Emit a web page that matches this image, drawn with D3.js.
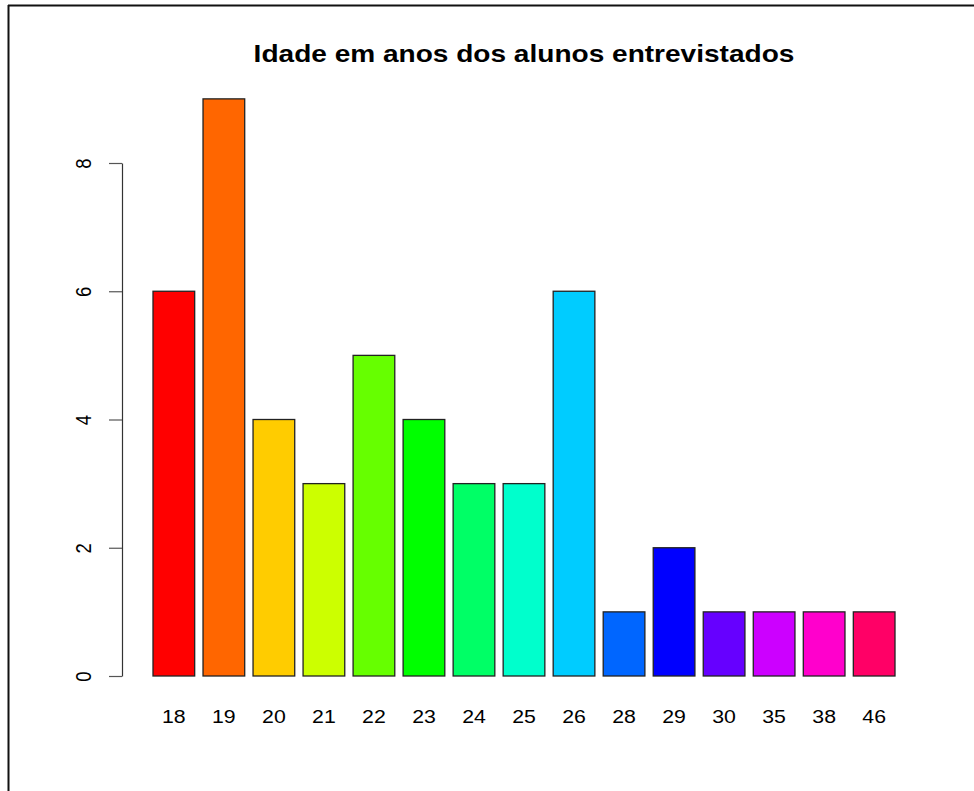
<!DOCTYPE html>
<html>
<head>
<meta charset="utf-8">
<script src="https://cdn.jsdelivr.net/npm/d3@7"></script>
<style>
  html, body { margin: 0; padding: 0; background: #fff; }
  svg { display: block; }
  text { font-family: "Liberation Sans", Arial, sans-serif; fill: #000; }
</style>
</head>
<body>
<svg id="chart" width="974" height="791"></svg>
<script>
// Ages of the interviewed students and how many students had each age
const ages = ["18", "19", "20", "21", "22", "23", "24", "25", "26", "28", "29", "30", "35", "38", "46"];
const counts = [6, 9, 4, 3, 5, 4, 3, 3, 6, 1, 2, 1, 1, 1, 1];
const yTicks = [0, 2, 4, 6, 8];
const title = "Idade em anos dos alunos entrevistados";

const svg = d3.select("#chart");
const stretch = 1.15; // text is drawn slightly wider than tall

// Frame lines along the top and left edges
svg.append("line").attr("x1", 8).attr("y1", 5.5).attr("x2", 974).attr("y2", 5.5)
  .attr("stroke", "#111").attr("stroke-width", 2);
svg.append("line").attr("x1", 8.5).attr("y1", 5).attr("x2", 8.5).attr("y2", 791)
  .attr("stroke", "#111").attr("stroke-width", 2);

// Bars follow barplot spacing: width 1, gap 0.2 in user units
const barW = 1, gap = 0.2;
const lefts = ages.map((_, i) => gap + i * (barW + gap));
const x = d3.scaleLinear().domain([gap, lefts[lefts.length - 1] + barW]).range([153, 895]);
const y = d3.scaleLinear().domain([0, 8]).range([676, 163]);

const colors = ages.map((_, i) => d3.hsl(360 * i / ages.length, 1, 0.5).formatHex());

svg.append("g").selectAll("rect")
  .data(counts)
  .join("rect")
  .attr("x", (d, i) => x(lefts[i]))
  .attr("width", (d, i) => x(lefts[i] + barW) - x(lefts[i]))
  .attr("y", d => y(d))
  .attr("height", d => y(0) - y(d))
  .attr("fill", (d, i) => colors[i])
  .attr("stroke", "#222")
  .attr("stroke-width", 1.3);

// Category labels under each bar
svg.append("g").selectAll("text")
  .data(ages)
  .join("text")
  .attr("transform", (d, i) => `translate(${x(lefts[i] + barW / 2)},723) scale(${stretch},1)`)
  .attr("text-anchor", "middle")
  .style("font-size", "18.5px")
  .text(d => d);

// Left axis with rotated tick labels
const axis = d3.axisLeft(y).tickValues(yTicks).tickSize(13).tickSizeOuter(0).tickFormat(d3.format("d"));
const ag = svg.append("g").attr("transform", "translate(122,0)").call(axis);
ag.select(".domain").attr("stroke", "#333").attr("stroke-width", 1.2);
ag.selectAll(".tick line").attr("stroke", "#555").attr("stroke-width", 1.2);
ag.selectAll(".tick text")
  .attr("x", null).attr("dy", null)
  .attr("transform", `translate(-38.5,0) scale(${stretch},1) rotate(-90)`)
  .attr("text-anchor", "middle")
  .attr("dy", "0.35em")
  .style("font-size", "18.5px")
  .style("font-family", "Liberation Sans, Arial, sans-serif")
  .attr("fill", "#000");

// Title centred over the plotting region
svg.append("text")
  .attr("transform", `translate(${x(9.1)},62) scale(1.22,1)`)
  .attr("text-anchor", "middle")
  .style("font-size", "23px")
  .style("font-weight", "bold")
  .text(title);
</script>
</body>
</html>
